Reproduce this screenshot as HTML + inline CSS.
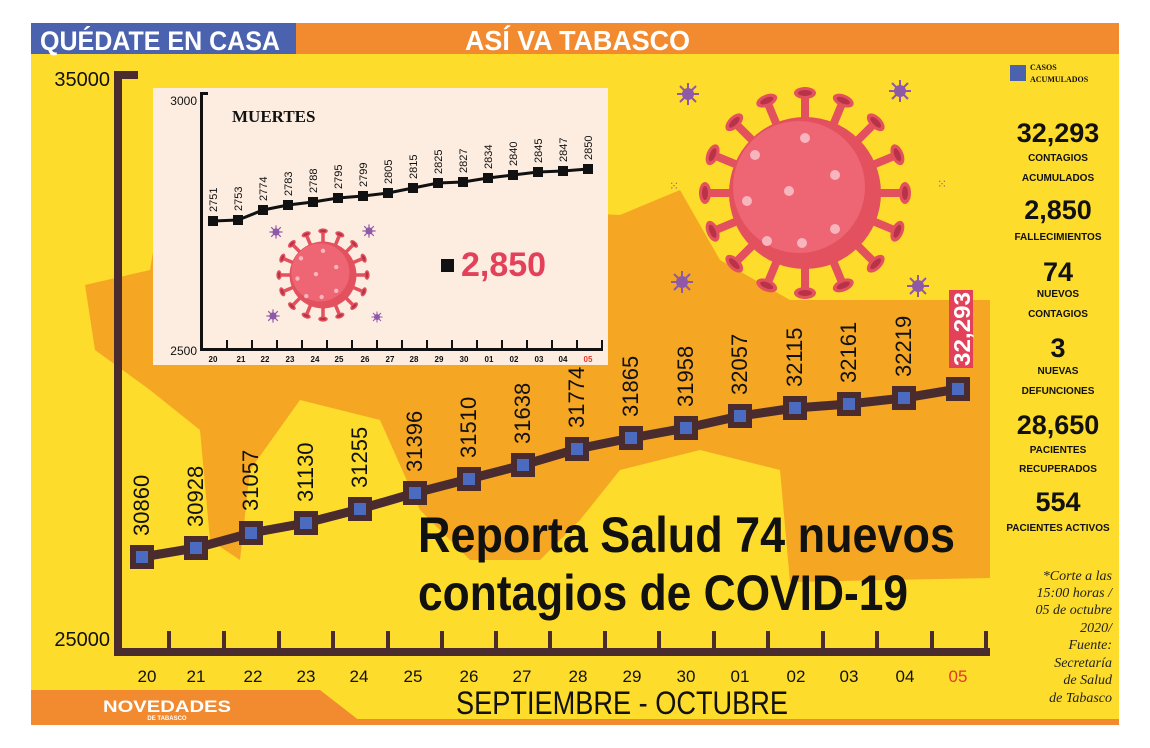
<!DOCTYPE html>
<html><head><meta charset="utf-8"><style>
html,body{margin:0;padding:0;background:#fff;width:1150px;height:748px;overflow:hidden}
svg{display:block}
text{font-family:"Liberation Sans",sans-serif}
.serif text, text.serif{font-family:"Liberation Serif",serif}
</style></head><body>
<svg width="1150" height="748" viewBox="0 0 1150 748" xmlns="http://www.w3.org/2000/svg">
<defs>
<g id="spk"><rect x="-4" y="-100" width="8" height="30" fill="#E3505E"/><ellipse cx="0" cy="-100" rx="11" ry="6" fill="#E3505E"/><ellipse cx="0" cy="-100" rx="7" ry="3" fill="#B83348"/></g>
<g id="sv"><circle r="6" fill="#8E5AA8"/><g stroke="#8E5AA8" stroke-width="2"><line x1="0" y1="-11" x2="0" y2="11"/><line x1="-11" y1="0" x2="11" y2="0"/><line x1="-8" y1="-8" x2="8" y2="8"/><line x1="-8" y1="8" x2="8" y2="-8"/></g></g>
<g id="v">
<use href="#spk"/><use href="#spk" transform="rotate(22.5)"/><use href="#spk" transform="rotate(45)"/><use href="#spk" transform="rotate(67.5)"/><use href="#spk" transform="rotate(90)"/><use href="#spk" transform="rotate(112.5)"/><use href="#spk" transform="rotate(135)"/><use href="#spk" transform="rotate(157.5)"/><use href="#spk" transform="rotate(180)"/><use href="#spk" transform="rotate(202.5)"/><use href="#spk" transform="rotate(225)"/><use href="#spk" transform="rotate(247.5)"/><use href="#spk" transform="rotate(270)"/><use href="#spk" transform="rotate(292.5)"/><use href="#spk" transform="rotate(315)"/><use href="#spk" transform="rotate(337.5)"/>
<circle r="76" fill="#E3505E"/><circle cx="-6" cy="-6" r="66" fill="#EE6573"/>
<g fill="#F7B5BE"><circle cx="0" cy="-55" r="5"/><circle cx="-50" cy="-38" r="5"/><circle cx="-16" cy="-2" r="5"/><circle cx="30" cy="-18" r="5"/><circle cx="-58" cy="8" r="5"/><circle cx="-38" cy="48" r="5"/><circle cx="-3" cy="50" r="5"/><circle cx="30" cy="36" r="5"/></g>
</g>
</defs>
<rect x="31" y="23" width="1088" height="702" fill="#FDDC2B"/>
<path d="M85,285 L150,270 L160,210 L420,205 L620,215 L680,190 L720,260 L790,300 L990,300 L990,578 L790,582 L780,470 L700,450 L620,470 L580,520 L540,560 L470,560 L420,510 L380,420 L300,400 L250,470 L240,560 L210,540 L200,430 L150,390 L95,350 Z" fill="#F5A623"/>
<rect x="31" y="23" width="265" height="31" fill="#4B63AE"/>
<rect x="296" y="23" width="823" height="31" fill="#F28A30"/>
<text x="40" y="50" font-size="27" font-weight="bold" fill="#fff" textLength="240" lengthAdjust="spacingAndGlyphs">QUÉDATE EN CASA</text>
<text x="465" y="50" font-size="28" font-weight="bold" fill="#fff" textLength="225" lengthAdjust="spacingAndGlyphs">ASÍ VA TABASCO</text>
<path d="M31,690 L320,690 L365,725 L31,725 Z" fill="#F28A30"/>
<rect x="31" y="719" width="1088" height="6" fill="#F28A30"/>
<text x="167" y="712" font-size="17" font-weight="bold" fill="#fff" text-anchor="middle" textLength="128" lengthAdjust="spacingAndGlyphs">NOVEDADES</text>
<text x="167" y="720" font-size="6" font-weight="bold" fill="#fff" text-anchor="middle">DE TABASCO</text>
<text x="622" y="714" font-size="32" fill="#111" text-anchor="middle" textLength="332" lengthAdjust="spacingAndGlyphs">SEPTIEMBRE - OCTUBRE</text>
<use href="#v" transform="translate(805,193)"/>
<use href="#sv" transform="translate(688,94)"/><use href="#sv" transform="translate(900,91)"/><use href="#sv" transform="translate(682,282)"/><use href="#sv" transform="translate(918,286)"/>
<text x="669" y="190" font-size="12" fill="#8E5AA8">⁙</text><text x="937" y="188" font-size="12" fill="#8E5AA8">⁙</text>
<g fill="#4A2B2E">
<rect x="114" y="71" width="8" height="585"/><rect x="114" y="71" width="24" height="8"/>
<rect x="114" y="648" width="876" height="8"/>
<rect x="167" y="631" width="4" height="20"/><rect x="222" y="631" width="4" height="20"/><rect x="277" y="631" width="4" height="20"/><rect x="331" y="631" width="4" height="20"/><rect x="386" y="631" width="4" height="20"/><rect x="440" y="631" width="4" height="20"/><rect x="494" y="631" width="4" height="20"/><rect x="548" y="631" width="4" height="20"/><rect x="603" y="631" width="4" height="20"/><rect x="657" y="631" width="4" height="20"/><rect x="712" y="631" width="4" height="20"/><rect x="766" y="631" width="4" height="20"/><rect x="821" y="631" width="4" height="20"/><rect x="875" y="631" width="4" height="20"/><rect x="930" y="631" width="4" height="20"/><rect x="984" y="631" width="4" height="20"/>
</g>
<text x="110" y="86" font-size="20" text-anchor="end" fill="#111">35000</text>
<text x="110" y="646" font-size="20" text-anchor="end" fill="#111">25000</text>
<g font-size="17" fill="#111" text-anchor="middle">
<text x="147" y="682">20</text><text x="196" y="682">21</text><text x="253" y="682">22</text><text x="306" y="682">23</text><text x="359" y="682">24</text><text x="413" y="682">25</text><text x="469" y="682">26</text><text x="522" y="682">27</text><text x="578" y="682">28</text><text x="632" y="682">29</text><text x="686" y="682">30</text><text x="740" y="682">01</text><text x="796" y="682">02</text><text x="849" y="682">03</text><text x="905" y="682">04</text><text x="958" y="682" fill="#E03A2A">05</text>
</g>
<polyline points="142,557 196,548 251,533 306,523 360,509 415,493 469,479 523,465 577,449 631,438 686,428 740,416 795,408 849,404 904,398 958,389" fill="none" stroke="#4A2B2E" stroke-width="9"/>
<g fill="#4A2B2E">
<rect x="130" y="545" width="24" height="24"/><rect x="184" y="536" width="24" height="24"/><rect x="239" y="521" width="24" height="24"/><rect x="294" y="511" width="24" height="24"/><rect x="348" y="497" width="24" height="24"/><rect x="403" y="481" width="24" height="24"/><rect x="457" y="467" width="24" height="24"/><rect x="511" y="453" width="24" height="24"/><rect x="565" y="437" width="24" height="24"/><rect x="619" y="426" width="24" height="24"/><rect x="674" y="416" width="24" height="24"/><rect x="728" y="404" width="24" height="24"/><rect x="783" y="396" width="24" height="24"/><rect x="837" y="392" width="24" height="24"/><rect x="892" y="386" width="24" height="24"/><rect x="946" y="377" width="24" height="24"/>
</g>
<g fill="#4B6BC0">
<rect x="136" y="551" width="12" height="12"/><rect x="190" y="542" width="12" height="12"/><rect x="245" y="527" width="12" height="12"/><rect x="300" y="517" width="12" height="12"/><rect x="354" y="503" width="12" height="12"/><rect x="409" y="487" width="12" height="12"/><rect x="463" y="473" width="12" height="12"/><rect x="517" y="459" width="12" height="12"/><rect x="571" y="443" width="12" height="12"/><rect x="625" y="432" width="12" height="12"/><rect x="680" y="422" width="12" height="12"/><rect x="734" y="410" width="12" height="12"/><rect x="789" y="402" width="12" height="12"/><rect x="843" y="398" width="12" height="12"/><rect x="898" y="392" width="12" height="12"/><rect x="952" y="383" width="12" height="12"/>
</g>
<g font-size="22" fill="#111">
<text transform="translate(149,536) rotate(-90)">30860</text>
<text transform="translate(203,527) rotate(-90)">30928</text>
<text transform="translate(258,511) rotate(-90)">31057</text>
<text transform="translate(313,502) rotate(-90)">31130</text>
<text transform="translate(367,488) rotate(-90)">31255</text>
<text transform="translate(422,472) rotate(-90)">31396</text>
<text transform="translate(476,458) rotate(-90)">31510</text>
<text transform="translate(530,444) rotate(-90)">31638</text>
<text transform="translate(584,428) rotate(-90)">31774</text>
<text transform="translate(638,417) rotate(-90)">31865</text>
<text transform="translate(693,407) rotate(-90)">31958</text>
<text transform="translate(747,395) rotate(-90)">32057</text>
<text transform="translate(802,387) rotate(-90)">32115</text>
<text transform="translate(856,383) rotate(-90)">32161</text>
<text transform="translate(911,377) rotate(-90)">32219</text>
</g>
<rect x="949" y="290" width="24" height="78" fill="#E3405A"/>
<text transform="translate(970,366) rotate(-90)" font-size="23" font-weight="bold" fill="#fff" textLength="74" lengthAdjust="spacingAndGlyphs">32,293</text>
<text x="418" y="552" font-size="50" font-weight="bold" fill="#111" textLength="537" lengthAdjust="spacingAndGlyphs">Reporta Salud 74 nuevos</text>
<text x="418" y="610" font-size="50" font-weight="bold" fill="#111" textLength="490" lengthAdjust="spacingAndGlyphs">contagios de COVID-19</text>
<rect x="153" y="88" width="455" height="277" fill="#FDEDE0"/>
<g fill="#111">
<rect x="200" y="92" width="3" height="259"/><rect x="200" y="92" width="8" height="3"/><rect x="200" y="348" width="403" height="3"/>
<rect x="226" y="340" width="2" height="9"/><rect x="251" y="340" width="2" height="9"/><rect x="276" y="340" width="2" height="9"/><rect x="301" y="340" width="2" height="9"/><rect x="326" y="340" width="2" height="9"/><rect x="351" y="340" width="2" height="9"/><rect x="376" y="340" width="2" height="9"/><rect x="401" y="340" width="2" height="9"/><rect x="426" y="340" width="2" height="9"/><rect x="451" y="340" width="2" height="9"/><rect x="476" y="340" width="2" height="9"/><rect x="501" y="340" width="2" height="9"/><rect x="526" y="340" width="2" height="9"/><rect x="551" y="340" width="2" height="9"/><rect x="576" y="340" width="2" height="9"/><rect x="601" y="340" width="2" height="9"/>
</g>
<text x="197" y="105" font-size="12" text-anchor="end" fill="#111">3000</text>
<text x="197" y="355" font-size="12" text-anchor="end" fill="#111">2500</text>
<text class="serif" x="232" y="122" font-size="17" font-weight="bold" fill="#111">MUERTES</text>
<g font-size="8" font-weight="bold" fill="#111" text-anchor="middle">
<text x="213" y="362">20</text><text x="241" y="362">21</text><text x="265" y="362">22</text><text x="290" y="362">23</text><text x="315" y="362">24</text><text x="339" y="362">25</text><text x="365" y="362">26</text><text x="390" y="362">27</text><text x="414" y="362">28</text><text x="439" y="362">29</text><text x="464" y="362">30</text><text x="489" y="362">01</text><text x="514" y="362">02</text><text x="539" y="362">03</text><text x="563" y="362">04</text><text x="588" y="362" fill="#E03A2A">05</text>
</g>
<polyline points="213,221 238,220 263,210 288,205 313,202 338,198 363,196 388,193 413,188 438,183 463,182 488,178 513,175 538,172 563,171 588,169" fill="none" stroke="#111" stroke-width="3"/>
<g fill="#111">
<rect x="208" y="216" width="10" height="10"/><rect x="233" y="215" width="10" height="10"/><rect x="258" y="205" width="10" height="10"/><rect x="283" y="200" width="10" height="10"/><rect x="308" y="197" width="10" height="10"/><rect x="333" y="193" width="10" height="10"/><rect x="358" y="191" width="10" height="10"/><rect x="383" y="188" width="10" height="10"/><rect x="408" y="183" width="10" height="10"/><rect x="433" y="178" width="10" height="10"/><rect x="458" y="177" width="10" height="10"/><rect x="483" y="173" width="10" height="10"/><rect x="508" y="170" width="10" height="10"/><rect x="533" y="167" width="10" height="10"/><rect x="558" y="166" width="10" height="10"/><rect x="583" y="164" width="10" height="10"/>
</g>
<g font-size="11" fill="#111">
<text transform="translate(217,212) rotate(-90)">2751</text><text transform="translate(242,211) rotate(-90)">2753</text><text transform="translate(267,201) rotate(-90)">2774</text><text transform="translate(292,196) rotate(-90)">2783</text><text transform="translate(317,193) rotate(-90)">2788</text><text transform="translate(342,189) rotate(-90)">2795</text><text transform="translate(367,187) rotate(-90)">2799</text><text transform="translate(392,184) rotate(-90)">2805</text><text transform="translate(417,179) rotate(-90)">2815</text><text transform="translate(442,174) rotate(-90)">2825</text><text transform="translate(467,173) rotate(-90)">2827</text><text transform="translate(492,169) rotate(-90)">2834</text><text transform="translate(517,166) rotate(-90)">2840</text><text transform="translate(542,163) rotate(-90)">2845</text><text transform="translate(567,162) rotate(-90)">2847</text><text transform="translate(592,160) rotate(-90)">2850</text>
</g>
<use href="#v" transform="translate(323,275) scale(0.44)"/>
<use href="#sv" transform="translate(276,232) scale(0.6)"/><use href="#sv" transform="translate(369,231) scale(0.6)"/><use href="#sv" transform="translate(273,316) scale(0.6)"/><use href="#sv" transform="translate(377,317) scale(0.5)"/>
<rect x="441" y="259" width="13" height="13" fill="#111"/>
<text x="461" y="276" font-size="34" font-weight="bold" fill="#E3405A">2,850</text>
<rect x="1010" y="65" width="16" height="16" fill="#4B63AE"/>
<text class="serif" x="1030" y="70" font-size="8" font-weight="bold" fill="#111">CASOS</text>
<text class="serif" x="1030" y="82" font-size="8" font-weight="bold" fill="#111">ACUMULADOS</text>
<g text-anchor="middle" fill="#111" font-weight="bold">
<text x="1058" y="142" font-size="27">32,293</text>
<text x="1058" y="161" font-size="10">CONTAGIOS</text><text x="1058" y="181" font-size="10">ACUMULADOS</text>
<text x="1058" y="219" font-size="27">2,850</text>
<text x="1058" y="240" font-size="10">FALLECIMIENTOS</text>
<text x="1058" y="281" font-size="27">74</text>
<text x="1058" y="297" font-size="10">NUEVOS</text><text x="1058" y="317" font-size="10">CONTAGIOS</text>
<text x="1058" y="357" font-size="27">3</text>
<text x="1058" y="374" font-size="10">NUEVAS</text><text x="1058" y="394" font-size="10">DEFUNCIONES</text>
<text x="1058" y="434" font-size="27">28,650</text>
<text x="1058" y="453" font-size="10">PACIENTES</text><text x="1058" y="472" font-size="10">RECUPERADOS</text>
<text x="1058" y="511" font-size="27">554</text>
<text x="1058" y="531" font-size="10">PACIENTES ACTIVOS</text>
</g>
<g class="serif" text-anchor="end" fill="#222" font-size="14" font-style="italic">
<text x="1112" y="580">*Corte a las</text><text x="1112" y="597">15:00 horas /</text><text x="1112" y="614">05 de octubre</text><text x="1112" y="632">2020/</text><text x="1112" y="649">Fuente:</text><text x="1112" y="667">Secretaría</text><text x="1112" y="684">de Salud</text><text x="1112" y="702">de Tabasco</text>
</g>
</svg>
</body></html>
